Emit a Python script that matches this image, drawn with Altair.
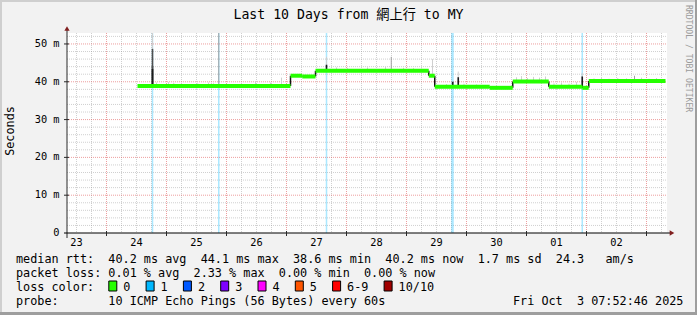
import altair as alt
import pandas as pd

# ---------------- data ----------------
# time is expressed in hours since 2025-09-23 00:00
X_DOMAIN = [8.2, 248.2]
Y_DOMAIN = [0, 52.9]          # milliseconds

# median rtt, as flat segments: start hour, end hour, value (ms)
seg_start = [36.4, 97.6, 102.3, 107.6, 152.9, 155.3, 177.3, 186.5, 200.9, 214.3, 216.9]
seg_end   = [97.6, 102.3, 107.6, 152.9, 155.3, 177.3, 186.5, 200.9, 214.3, 216.9, 247.6]
seg_rtt   = [38.9, 41.6, 41.4, 42.9, 41.6, 38.7, 38.4, 40.1, 38.7, 38.4, 40.2]

# smoke (ping spread) spikes: hour, low, high, shade
smoke_hour = [42.4, 42.4, 42.4, 42.4, 68.9, 112.0, 112.0, 137.9, 154.4, 162.5, 164.7, 164.7,
              214.3, 214.3, 235.2, 94.0,
              44.0, 48.8, 50.9, 60.5, 64.8, 66.8, 83.6, 89.6, 116.0, 120.4, 128.4, 135.6,
              142.8, 146.8, 150.0, 160.0, 167.0, 172.0, 188.0, 190.0, 192.4, 194.8, 197.2,
              199.6, 203.0, 206.0, 209.0, 212.0, 219.0, 222.0, 225.0, 228.5, 232.0, 238.0,
              241.0, 244.0, 60.0, 63.0, 66.0, 72.0, 84.0, 174.0]
smoke_lo = [38.9, 38.9, 38.9, 38.9, 38.9, 42.9, 42.9, 42.9, 41.6, 38.7, 38.7, 38.7,
            38.7, 38.4, 40.2, 38.9,
            38.9, 38.9, 38.9, 38.9, 38.9, 38.9, 38.9, 38.9, 42.9, 42.9, 42.9, 42.9,
            42.9, 42.9, 42.9, 38.7, 38.7, 38.7, 40.1, 40.1, 40.1, 40.1, 40.1,
            40.1, 38.7, 38.7, 38.7, 38.7, 40.2, 40.2, 40.2, 40.2, 40.2, 40.2,
            40.2, 40.2, 38.2, 38.3, 38.2, 38.3, 38.3, 38.0]
smoke_hi = [52.9, 48.7, 44.2, 43.4, 52.9, 46.6, 44.5, 46.6, 46.0, 40.0, 42.7, 41.2,
            42.4, 41.4, 41.6, 41.1,
            39.8, 39.9, 39.7, 39.6, 39.8, 39.6, 40.1, 39.8, 43.8, 43.6, 43.8, 43.9,
            43.7, 43.6, 43.5, 39.4, 39.5, 39.3, 41.2, 41.5, 41.0, 41.3, 41.1,
            41.4, 39.6, 39.8, 39.5, 39.9, 40.9, 41.1, 40.8, 41.0, 40.9, 41.1,
            40.8, 41.0, 38.9, 38.9, 38.9, 38.9, 38.9, 38.7]
smoke_shade = ["light", "dark", "dark", "black", "mid", "light", "black", "mid", "light", "black",
               "light", "black", "light", "black", "mid", "light"] + ["light"] * 42

# loss events drawn as background bars (1/10 loss)
loss_hour = [42.4, 68.9, 112.0, 162.4, 214.3]
loss_width = [1.5, 1.5, 1.5, 2.5, 1.5]

day_labels = ["23", "24", "25", "26", "27", "28", "29", "30", "01", "02"]
y_tick_vals = [0, 10, 20, 30, 40, 50]
y_tick_labels = ["0", "10 m", "20 m", "30 m", "40 m", "50 m"]

title_text = "Last 10 Days from 網上行 to MY"
ylabel_text = "Seconds"
watermark_text = "RRDTOOL / TOBI OETIKER"
legend_rows = [
    "median rtt:  40.2 ms avg  44.1 ms max  38.6 ms min  40.2 ms now  1.7 ms sd  24.3   am/s",
    "packet loss: 0.01 % avg  2.33 % max  0.00 % min  0.00 % now",
    "loss color:",
    "probe:       10 ICMP Echo Pings (56 Bytes) every 60s",
]
date_text = "Fri Oct  3 07:52:46 2025"
loss_labels = ["0", "1", "2", "3", "4", "5", "6-9", "10/10"]
loss_colors = ["#26ff00", "#00b8ff", "#0059ff", "#7e00ff", "#ff00ff", "#ff5500", "#ff0000", "#a10000"]

# ---------------- styling ----------------
SHADES = {"light": "#cfcfcf", "mid": "#a0a0a0", "dark": "#505050", "black": "#1a1a1a"}
FONT = "DejaVu Sans Mono, Noto Sans CJK TC"
W, H = 600, 200
PAD_L, PAD_T, PAD_R, PAD_B = 67, 33, 30, 82
CW = 7.1                 # legend character width
LEG_X = 16 - PAD_L       # legend left edge, plot-relative
NB = "\u00a0"


def nb(s):
    return s.replace(" ", NB)


xs = alt.Scale(domain=X_DOMAIN, nice=False, zero=False)
ys = alt.Scale(domain=Y_DOMAIN, nice=False, zero=False)
one = pd.DataFrame({"a": [0]})

layers = []

# grid lines (positions from the time / value scale)
minor_x = [h for h in range(0, 260, 6) if X_DOMAIN[0] < h < X_DOMAIN[1] and h % 24 != 0]
major_x = [h for h in range(24, 260, 24) if X_DOMAIN[0] < h < X_DOMAIN[1]]
minor_y = [v for v in range(2, 53, 2) if v % 10 != 0]
major_y = [10, 20, 30, 40, 50]

GRID_C, GRID_O = "#8f8f8f", 0.42
MGRID_C, MGRID_O = "#de4f4f", 0.55
layers.append(alt.Chart(pd.DataFrame({"h": minor_x})).mark_rule(
    color=GRID_C, opacity=GRID_O, strokeDash=[1, 1], strokeWidth=1).encode(
    x=alt.X("h:Q", scale=xs, axis=None), y=alt.value(0), y2=alt.value(H)))
layers.append(alt.Chart(pd.DataFrame({"v": minor_y})).mark_rule(
    color=GRID_C, opacity=GRID_O, strokeDash=[1, 1], strokeWidth=1).encode(
    y=alt.Y("v:Q", scale=ys, axis=None), x=alt.value(0), x2=alt.value(W)))
layers.append(alt.Chart(pd.DataFrame({"h": major_x})).mark_rule(
    color=MGRID_C, opacity=MGRID_O, strokeDash=[1, 1], strokeWidth=1).encode(
    x=alt.X("h:Q", scale=xs, axis=None), y=alt.value(0), y2=alt.value(H)))
layers.append(alt.Chart(pd.DataFrame({"v": major_y})).mark_rule(
    color=MGRID_C, opacity=MGRID_O, strokeDash=[1, 1], strokeWidth=1).encode(
    y=alt.Y("v:Q", scale=ys, axis=None), x=alt.value(0), x2=alt.value(W)))

# loss background bars
loss_df = pd.DataFrame({"h": loss_hour, "w": loss_width})
layers.append(alt.Chart(loss_df).mark_rule(color="#00b8ff", opacity=0.33).encode(
    x=alt.X("h:Q", scale=xs, axis=None), y=alt.value(0), y2=alt.value(H),
    strokeWidth=alt.StrokeWidth("w:Q", scale=None)))

# smoke
smoke_df = pd.DataFrame({"h": smoke_hour, "lo": smoke_lo, "hi": smoke_hi,
                         "c": [SHADES[s] for s in smoke_shade],
                         "w": [1.6 if s in ("black", "dark") else 1.0 for s in smoke_shade]})
layers.append(alt.Chart(smoke_df).mark_rule().encode(
    x=alt.X("h:Q", scale=xs, axis=None), y=alt.Y("lo:Q", scale=ys, axis=None), y2="hi:Q",
    color=alt.Color("c:N", scale=None), strokeWidth=alt.StrokeWidth("w:Q", scale=None)))

# step transitions of the median (black)
tr_df = pd.DataFrame({"h": seg_start[1:], "a": seg_rtt[:-1], "b": seg_rtt[1:]})
layers.append(alt.Chart(tr_df).mark_rule(color="#111111", strokeWidth=1.5).encode(
    x=alt.X("h:Q", scale=xs, axis=None), y=alt.Y("a:Q", scale=ys, axis=None), y2="b:Q"))

# median rtt line (loss 0 colour)
med_df = pd.DataFrame({"s": seg_start, "e": seg_end, "v": seg_rtt})
layers.append(alt.Chart(med_df).mark_rule(color="#26ff00", strokeWidth=4).encode(
    x=alt.X("s:Q", scale=xs, axis=None), x2="e:Q", y=alt.Y("v:Q", scale=ys, axis=None)))

# axes
layers.append(alt.Chart(one).mark_rule(color="#2a2a2a", strokeWidth=1).encode(
    x=alt.value(0), y=alt.value(-3), y2=alt.value(H + 5)))
layers.append(alt.Chart(one).mark_rule(color="#000000", strokeWidth=1.2).encode(
    x=alt.value(-3), x2=alt.value(W + 3), y=alt.value(H)))
layers.append(alt.Chart(one).mark_point(shape="triangle-up", filled=True, size=28,
                                         color="#801f1f", opacity=1).encode(
    x=alt.value(0), y=alt.value(-4.5)))
layers.append(alt.Chart(one).mark_point(shape="triangle-right", filled=True, size=28,
                                         color="#801f1f", opacity=1).encode(
    x=alt.value(W + 5), y=alt.value(H)))
# axis ticks
layers.append(alt.Chart(pd.DataFrame({"v": y_tick_vals[1:]})).mark_rule(color="#2a2a2a").encode(
    y=alt.Y("v:Q", scale=ys, axis=None), x=alt.value(-3), x2=alt.value(2)))
layers.append(alt.Chart(pd.DataFrame({"h": major_x})).mark_rule(color="#2a2a2a").encode(
    x=alt.X("h:Q", scale=xs, axis=None), y=alt.value(H - 2), y2=alt.value(H + 3)))

# tick labels
ylab_df = pd.DataFrame({"v": y_tick_vals,
                        "t": [nb(s if " " in s else s + "  ") for s in y_tick_labels]})
layers.append(alt.Chart(ylab_df).mark_text(font=FONT, fontSize=10.3, align="right",
                                          baseline="middle", color="#000000").encode(
    y=alt.Y("v:Q", scale=ys, axis=None), x=alt.value(-7.5), text="t:N"))
xlab_df = pd.DataFrame({"h": [12 + 24 * i for i in range(len(day_labels))], "t": day_labels})
layers.append(alt.Chart(xlab_df).mark_text(font=FONT, fontSize=10.3, align="center",
                                          baseline="alphabetic", color="#000000").encode(
    x=alt.X("h:Q", scale=xs, axis=None), y=alt.value(H + 13), text="t:N"))

# title, unit label, watermark
layers.append(alt.Chart(one).mark_text(font=FONT, fontSize=13.2, align="center",
                                      baseline="alphabetic", color="#000000").encode(
    x=alt.value(348.5 - PAD_L), y=alt.value(19 - PAD_T), text=alt.value(nb(title_text))))
layers.append(alt.Chart(one).mark_text(font=FONT, fontSize=11.8, align="center",
                                      baseline="middle", angle=270, color="#000000").encode(
    x=alt.value(10 - PAD_L), y=alt.value(131 - PAD_T), text=alt.value(ylabel_text)))
layers.append(alt.Chart(one).mark_text(font=FONT, fontSize=8.1, align="left",
                                      baseline="middle", angle=90, color="#9a9a9a").encode(
    x=alt.value(688 - PAD_L), y=alt.value(5 - PAD_T), text=alt.value(nb(watermark_text))))

# legend rows
for i, row in enumerate(legend_rows):
    layers.append(alt.Chart(one).mark_text(font=FONT, fontSize=11.8, align="left",
                                          baseline="alphabetic", color="#000000").encode(
        x=alt.value(LEG_X), y=alt.value(230 + 14 * i), text=alt.value(nb(row))))
layers.append(alt.Chart(one).mark_text(font=FONT, fontSize=11.8, align="left",
                                      baseline="alphabetic", color="#000000").encode(
    x=alt.value(LEG_X + 70 * CW), y=alt.value(230 + 14 * 3), text=alt.value(nb(date_text))))

# loss colour boxes
bx = LEG_X + 13 * CW
for lab, col in zip(loss_labels, loss_colors):
    layers.append(alt.Chart(one).mark_rect(fill=col, stroke="#000000", strokeWidth=1).encode(
        x=alt.value(bx + 0.5), x2=alt.value(bx + 8.5), y=alt.value(248), y2=alt.value(258)))
    layers.append(alt.Chart(one).mark_text(font=FONT, fontSize=11.8, align="left",
                                          baseline="alphabetic", color="#000000").encode(
        x=alt.value(bx + 15), y=alt.value(258), text=alt.value(lab)))
    bx += 16 + (len(lab) + 2) * CW

# 3-D frame around the image
FW = W + PAD_L + PAD_R
FH = H + PAD_T + PAD_B
for (x1, x2, y1, y2, c) in [
    (-PAD_L, FW - PAD_L, -PAD_T, -PAD_T + 2, "#cfcfcf"),
    (-PAD_L, -PAD_L + 2, -PAD_T, FH - PAD_T, "#cfcfcf"),
    (FW - PAD_L - 2, FW - PAD_L, -PAD_T, FH - PAD_T, "#9e9e9e"),
    (-PAD_L, FW - PAD_L, FH - PAD_T - 3, FH - PAD_T, "#9e9e9e"),
]:
    layers.append(alt.Chart(one).mark_rect(color=c).encode(
        x=alt.value(x1), x2=alt.value(x2), y=alt.value(y1), y2=alt.value(y2)))

chart = alt.layer(*layers).properties(
    width=W, height=H,
    autosize=alt.AutoSizeParams(type="none"),
    padding={"left": PAD_L, "top": PAD_T, "right": PAD_R, "bottom": PAD_B},
).configure(background="#f2f2f2").configure_view(stroke=None, fill="#ffffff")

chart.save("out.html", embed_options={"renderer": "svg", "actions": False})
